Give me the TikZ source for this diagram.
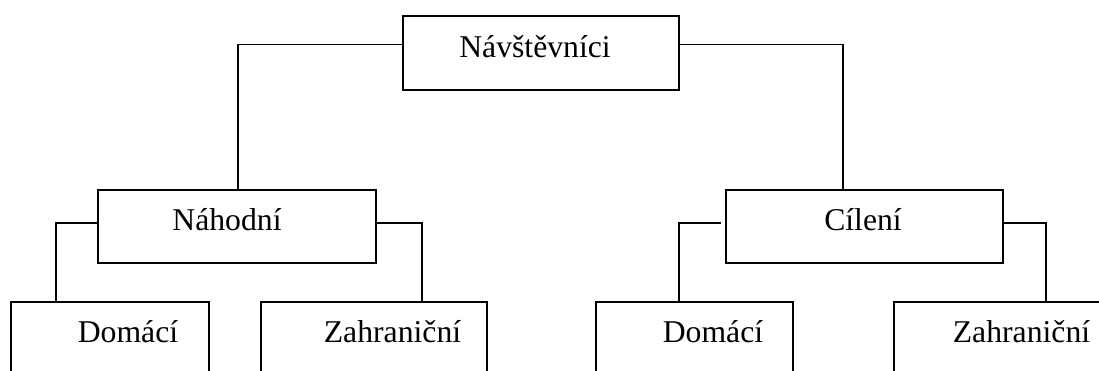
\documentclass[tikz,border=0pt]{standalone}
\usepackage{fontspec}
\setmainfont{Liberation Serif}
\begin{document}
\begin{tikzpicture}[x=1pt,y=-1pt,
  box/.style={draw=black,line width=1.6pt,rectangle,inner sep=0pt,minimum width=#1},
  lbl/.style={anchor=base,inner sep=0pt,font=\fontsize{31.7}{38}\selectfont},
  conn/.style={draw=black,line width=1.6pt}]
\useasboundingbox (0,0) rectangle (1099,370);
\clip (0,0) rectangle (1099,370);
% boxes
\node[box=276pt,minimum height=74pt] (top) at (540.7,52.8) {};
\node[box=278pt,minimum height=73pt] (nah) at (237,226.5) {};
\node[box=277pt,minimum height=73pt] (cil) at (864.5,226.5) {};
\node[box=198pt,minimum height=120pt] (domL) at (110,362) {};
\node[box=226pt,minimum height=120pt] (zahL) at (374,362) {};
\node[box=197pt,minimum height=120pt] (domR) at (694.5,362) {};
\node[box=226pt,minimum height=120pt] (zahR) at (1007,362) {};
% labels
\node[lbl] (tTop) at (535,57) {Návštěvníci};
\node[lbl] (tNah) at (227,230) {Náhodní};
\node[lbl] (tCil) at (863,230) {Cílení};
\node[lbl] (tDomL) at (128,342.7) {Domácí};
\node[lbl] (tZahL) at (392.5,342.7) {Zahraniční};
\node[lbl] (tDomR) at (713,342.7) {Domácí};
\node[lbl] (tZahR) at (1021.5,342.7) {Zahraniční};
% connectors
\draw[conn] ([yshift=8.5pt]top.west) -| ([xshift=0.7pt]nah.north);
\draw[conn] ([yshift=8.5pt]top.east) -| ([xshift=-21.5pt]cil.north);
\draw[conn] ([yshift=3.5pt]nah.west) -| ([xshift=-54pt]domL.north);
\draw[conn] ([yshift=3.5pt]nah.east) -| ([xshift=47.7pt]zahL.north);
\draw[conn] ([yshift=3.5pt,xshift=-4pt]cil.west) -| ([xshift=-15.5pt]domR.north);
\draw[conn] ([yshift=3.5pt]cil.east) -| ([xshift=39pt]zahR.north);
\end{tikzpicture}
\end{document}
